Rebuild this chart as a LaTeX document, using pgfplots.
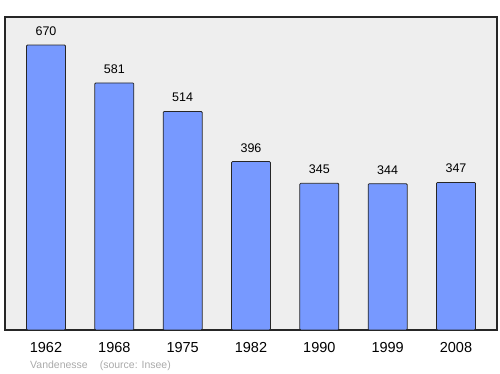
\documentclass[border=0pt]{standalone}
\usepackage{pgfplots}
\pgfplotsset{compat=1.18}
\usepackage{fontspec}
\setmainfont{Liberation Sans}
\definecolor{barblue}{HTML}{7799FF}
\definecolor{bggray}{HTML}{EEEEEE}
\definecolor{srcgray}{HTML}{AAAAAA}
\begin{document}
\begin{tikzpicture}
\useasboundingbox (-5pt,-44pt) rectangle (495pt,330pt);
\begin{axis}[
  at={(0pt,0pt)}, anchor=south west,
  scale only axis, width=492pt, height=313pt,
  xmin=-0.6, xmax=6.6, ymin=0, ymax=736,
  axis background/.style={fill=bggray},
  axis line style={black!85, line width=1.2pt},
  xtick={0,1,2,3,4,5,6},
  xticklabels={1962,1968,1975,1982,1990,1999,2008},
  xtick style={draw=none},
  ytick=\empty,
  xticklabel style={anchor=base, yshift=-18pt, font=\fontsize{14.5}{16}\selectfont},
  /pgf/number format/assume math mode=true,
  ybar, bar width=39pt,
  nodes near coords,
  nodes near coords style={font=\fontsize{12.5}{14}\selectfont, anchor=south, inner sep=0pt, yshift=9pt, text=black},
  clip=false,
]
\addplot[fill=barblue, draw=black!85, line width=0.8pt, rounded corners=1pt] coordinates {
  (0,670) (1,581) (2,514) (3,396) (4,345) (5,344) (6,347)
};
\end{axis}
\node[anchor=base west, inner sep=0pt, text=srcgray, font=\fontsize{10.5}{12}\selectfont] at (25pt,-39pt) {Vandenesse\hspace{12pt}(source: Insee)};
\end{tikzpicture}
\end{document}
